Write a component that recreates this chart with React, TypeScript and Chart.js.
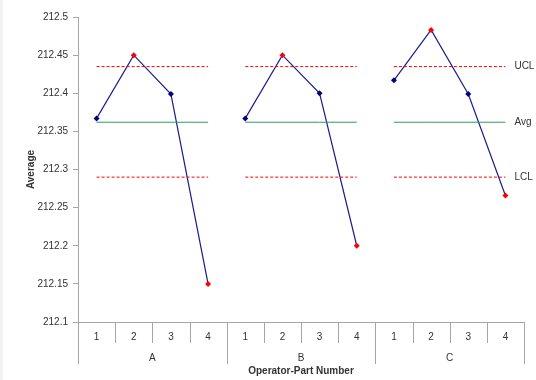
import React, { useEffect, useRef } from "react";
import { Chart, registerables } from "chart.js";

Chart.register(...registerables);

const operators = ["A", "B", "C"];
const parts = ["1", "2", "3", "4"];
const averages = [
  212.367, 212.45, 212.399, 212.15,
  212.367, 212.45, 212.4, 212.2,
  212.417, 212.483, 212.399, 212.266,
];
const ucl = 212.435;
const avg = 212.362;
const lcl = 212.29;
const yMin = 212.1;
const yMax = 212.5;
const yStep = 0.05;
const xTitle = "Operator-Part Number";
const yTitle = "Average";

const FONT = "'Liberation Sans', Arial, sans-serif";
const TEXT = "#333333";
const AXIS = "#a6a6a6";

const labels: string[] = [];
operators.forEach((op) => parts.forEach((p) => labels.push(op + "-" + p)));

function groupSeries(values: (number | null)[], g: number): (number | null)[] {
  return values.map((v, i) => (Math.floor(i / parts.length) === g ? v : null));
}

export default function App() {
  const ref = useRef<HTMLCanvasElement>(null);
  useEffect(() => {
    if (!ref.current) return;
    const datasets: any[] = [];
    operators.forEach((_, g) => {
      const limits = [
        { v: ucl, color: "#ff0000", dash: [3, 2] },
        { v: avg, color: "#2a9d5c", dash: [] },
        { v: lcl, color: "#ff0000", dash: [3, 2] },
      ];
      limits.forEach((l) => {
        datasets.push({
          data: groupSeries(averages.map(() => l.v), g),
          borderColor: l.color,
          borderDash: l.dash,
          borderWidth: 1,
          pointRadius: 0,
          spanGaps: false,
          fill: false,
        });
      });
    });
    operators.forEach((_, g) => {
      const d = groupSeries(averages, g);
      datasets.push({
        data: d,
        borderColor: "#1c1c8c",
        borderWidth: 1.2,
        pointStyle: "rectRot",
        pointRadius: 3,
        pointBorderWidth: 0,
        pointBackgroundColor: d.map((v) =>
          v !== null && (v > ucl || v < lcl) ? "#ff0000" : "#000080"
        ),
        spanGaps: false,
        fill: false,
      });
    });

    const axisPlugin = {
      id: "twoLevelAxis",
      afterDraw(chart: any) {
        const ctx = chart.ctx;
        const x = chart.scales.x;
        const area = chart.chartArea;
        const n = labels.length;
        const w = (area.right - area.left) / n;
        const base = area.bottom;
        ctx.save();
        ctx.strokeStyle = AXIS;
        ctx.lineWidth = 1;
        for (let i = 0; i <= n; i++) {
          const px = Math.round(area.left + i * w) + 0.5;
          const big = i % parts.length === 0;
          ctx.beginPath();
          ctx.moveTo(px, base);
          ctx.lineTo(px, base + (big ? 42 : 21));
          ctx.stroke();
        }
        ctx.fillStyle = TEXT;
        ctx.font = "10px " + FONT;
        ctx.textAlign = "center";
        ctx.textBaseline = "middle";
        for (let i = 0; i < n; i++) {
          const cx = x.getPixelForValue(i);
          ctx.fillText(parts[i % parts.length], cx, base + 15);
        }
        operators.forEach((op, g) => {
          const cx = area.left + (g * parts.length + parts.length / 2) * w;
          ctx.fillText(op, cx, base + 36);
        });
        ctx.font = "bold 10px " + FONT;
        ctx.fillText(xTitle, (area.left + area.right) / 2, base + 49);
        const y = chart.scales.y;
        const lastX = x.getPixelForValue(n - 1) + 9;
        ctx.font = "10px " + FONT;
        ctx.textAlign = "left";
        [["UCL", ucl], ["Avg", avg], ["LCL", lcl]].forEach(([t, v]: any) => {
          ctx.fillText(t, lastX, y.getPixelForValue(v));
        });
        ctx.restore();
      },
    };

    const chart = new Chart(ref.current, {
      type: "line",
      data: { labels, datasets },
      options: {
        animation: false,
        responsive: false,
        maintainAspectRatio: false,
        layout: { padding: { top: 17, right: 12, left: 0, bottom: 0 } },
        plugins: { legend: { display: false }, tooltip: { enabled: false } },
        scales: {
          x: {
            type: "category",
            offset: true,
            ticks: { display: false },
            grid: { display: false },
            border: { display: true, color: AXIS, width: 1 },
            afterFit: (s: any) => {
              s.height = 58;
            },
          },
          y: {
            min: yMin,
            max: yMax,
            ticks: {
              stepSize: yStep,
              color: TEXT,
              font: { family: FONT, size: 10 },
              padding: 5,
              callback: (v: any) => String(Number(Number(v).toFixed(2))),
            },
            grid: { drawOnChartArea: false, tickLength: 5, color: AXIS },
            border: { display: true, color: AXIS, width: 1 },
            title: {
              display: true,
              text: yTitle,
              color: TEXT,
              font: { family: FONT, size: 10, weight: "bold" },
              padding: { top: 25, bottom: 0 },
            },
            afterFit: (s: any) => {
              s.width = 78;
            },
          },
        },
      },
      plugins: [axisPlugin],
    } as any);
    return () => chart.destroy();
  }, []);
  return (
    <div
      style={{
        position: "fixed",
        left: 0,
        top: 0,
        width: 536,
        height: 380,
        background: "linear-gradient(to right, #f2f2f2 0px, #f2f2f2 3px, #ffffff 3px)",
      }}
    >
      <canvas ref={ref} width={536} height={380} style={{ width: 536, height: 380, display: "block" }} />
    </div>
  );
}
